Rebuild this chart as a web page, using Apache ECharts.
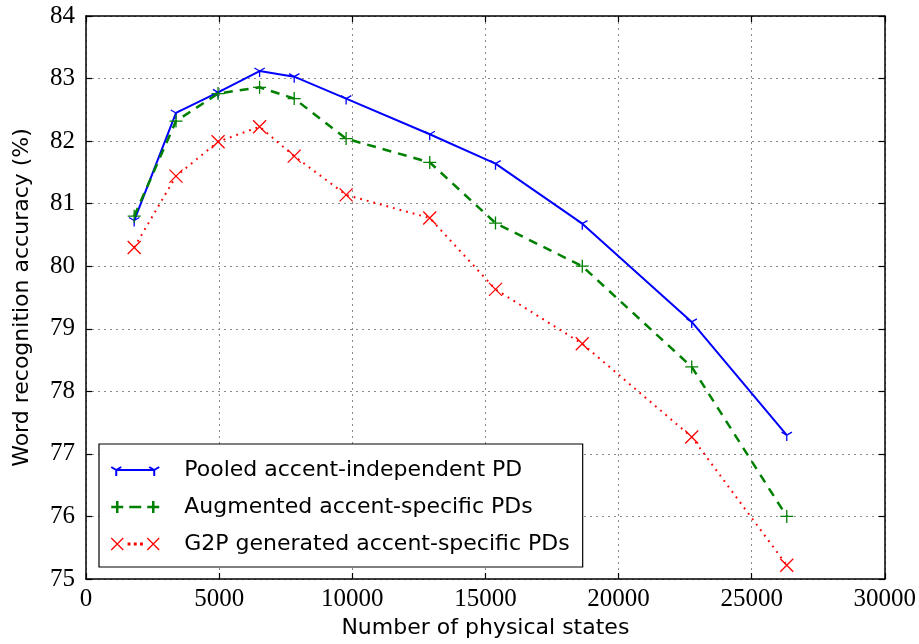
<!DOCTYPE html>
<html>
<head>
<meta charset="utf-8">
<script src="https://cdn.jsdelivr.net/npm/echarts@6/dist/echarts.min.js"></script>
<style>
  html, body { margin: 0; padding: 0; background: #fff; }
  #chart { width: 919px; height: 644px; }
</style>
</head>
<body>
<div id="chart"></div>
<script>
// 物理状态数 (x)
var states = [1810, 3380, 4960, 6520, 7820, 9770, 12910, 15380, 18640, 22750, 26320]
// 三条曲线的准确率
var pooled = [80.73, 82.45, 82.78, 83.12, 83.03, 82.68, 82.11, 81.64, 80.68, 79.11, 77.30]
var augmented = [80.80, 82.32, 82.76, 82.86, 82.68, 82.04, 81.66, 80.69, 80.00, 78.39, 76.00]
var g2p = [80.30, 81.44, 81.99, 82.23, 81.76, 81.14, 80.77, 79.63, 78.76, 77.27, 75.22]
var names = ['Pooled accent-independent PD', 'Augmented accent-specific PDs', 'G2P generated accent-specific PDs']

var serifFont = 'Liberation Serif, serif'
var sansFont = 'DejaVu Sans, sans-serif'

function pairs(ys) {
	var out = []
	for (var i = 0; i < states.length; i++) {
		out.push([states[i], ys[i]])
	}
	return out
}

// 标记形状
var triDown = 'path://M0,0M10,10M5,5L5,10M5,5L0.67,2.5M5,5L9.33,2.5'
var plus = 'path://M0,5L10,5M5,0L5,10'
var cross = 'path://M0,0L10,10M10,0L0,10'

// 图例图标 (48 x 14)
var iconBlue = 'path://M0,0M48,14M5,7L43,7M5,7L5,13M5,7L0,4M5,7L10,4M43,7L43,13M43,7L38,4M43,7L48,4'
var iconGreen = 'path://M0,0M48,14M0,7L12,7M6,1L6,13M18,7L30,7M36,7L48,7M42,1L42,13'
var iconRed = 'path://M0,0M48,14M0,1L12,13M12,1L0,13M36,1L48,13M48,1L36,13' +
	'M17,6.2L18.6,6.2L18.6,7.8L17,7.8ZM23.2,6.2L24.8,6.2L24.8,7.8L23.2,7.8ZM29.4,6.2L31,6.2L31,7.8L29.4,7.8Z'

var gridLine = { show: true, lineStyle: { color: '#8a8a8a', type: [2, 4], width: 1 } }
var frame = { show: true, onZero: false, lineStyle: { color: '#000', width: 1.5 } }
var tick = { show: true, inside: true, length: 6, lineStyle: { color: '#000', width: 1.2 } }
// 刻度数字用衬线字体 (rich 文本)
var tickRich = { n: { fontFamily: serifFont, fontSize: 25, color: '#000' } }
function tickFmt(v) {
	return '{n|' + String(v) + '}'
}

var option = {
	backgroundColor: '#fff',
	animation: false,
	grid: { left: 86, right: 33, top: 16, bottom: 65 },
	legend: {
		orient: 'vertical',
		left: 99,
		top: 444,
		padding: [14, 13, 11, 11],
		itemWidth: 48,
		itemHeight: 14,
		itemGap: 13,
		backgroundColor: '#fff',
		borderColor: '#000',
		borderWidth: 1.2,
		borderRadius: 0,
		textStyle: { fontFamily: sansFont, fontSize: 22, color: '#000', lineHeight: 24, padding: [0, 0, 0, 20] },
		data: [
			{ name: names[0], icon: iconBlue, itemStyle: { color: '#0000ff', borderColor: '#0000ff', borderWidth: 2 } },
			{ name: names[1], icon: iconGreen, itemStyle: { color: '#008000', borderColor: '#008000', borderWidth: 2.5 } },
			{ name: names[2], icon: iconRed, itemStyle: { color: '#ff0000', borderColor: '#ff0000', borderWidth: 1.3 } }
		]
	},
	xAxis: [{
		type: 'value',
		min: 0, max: 30000, interval: 5000,
		name: 'Number of physical states',
		nameLocation: 'middle',
		nameGap: 37,
		nameTextStyle: { fontFamily: sansFont, fontSize: 22, color: '#000' },
		axisLine: frame,
		axisTick: tick,
		axisLabel: {
			fontFamily: serifFont, fontSize: 25, color: '#000', margin: 8,
			formatter: tickFmt,
			rich: tickRich
		},
		splitLine: gridLine
	}, {
		type: 'value', position: 'top',
		min: 0, max: 30000, interval: 5000,
		axisLine: frame,
		axisTick: tick,
		axisLabel: { show: false },
		splitLine: { show: false }
	}],
	yAxis: [{
		type: 'value',
		min: 75, max: 84, interval: 1,
		name: 'Word recognition accuracy (%)',
		nameLocation: 'middle',
		nameGap: 53,
		nameTextStyle: { fontFamily: sansFont, fontSize: 22, color: '#000' },
		axisLine: frame,
		axisTick: tick,
		axisLabel: {
			fontFamily: serifFont, fontSize: 25, color: '#000', margin: 11,
			formatter: tickFmt,
			rich: tickRich
		},
		splitLine: gridLine
	}, {
		type: 'value', position: 'right',
		min: 75, max: 84, interval: 1,
		axisLine: frame,
		axisTick: tick,
		axisLabel: { show: false },
		splitLine: { show: false }
	}],
	series: [{
		name: names[0],
		type: 'line',
		data: pairs(pooled),
		symbol: triDown,
		symbolSize: 12,
		showAllSymbol: true,
		lineStyle: { color: '#0000ff', width: 2 },
		itemStyle: { color: '#0000ff', borderColor: '#0000ff', borderWidth: 1.3 }
	}, {
		name: names[1],
		type: 'line',
		data: pairs(augmented),
		symbol: plus,
		symbolSize: 13,
		showAllSymbol: true,
		lineStyle: { color: '#008000', width: 2.5, type: [9, 7] },
		itemStyle: { color: '#008000', borderColor: '#008000', borderWidth: 1.3 }
	}, {
		name: names[2],
		type: 'line',
		data: pairs(g2p),
		symbol: cross,
		symbolSize: 13,
		showAllSymbol: true,
		lineStyle: { color: '#ff0000', width: 2, type: [1.8, 5], cap: 'butt' },
		itemStyle: { color: '#ff0000', borderColor: '#ff0000', borderWidth: 1.3 }
	}]
}

var chart = echarts.init(document.getElementById('chart'))
chart.setOption(option)
window.addEventListener('resize', function () {
	chart.resize()
})
</script>
</body>
</html>
